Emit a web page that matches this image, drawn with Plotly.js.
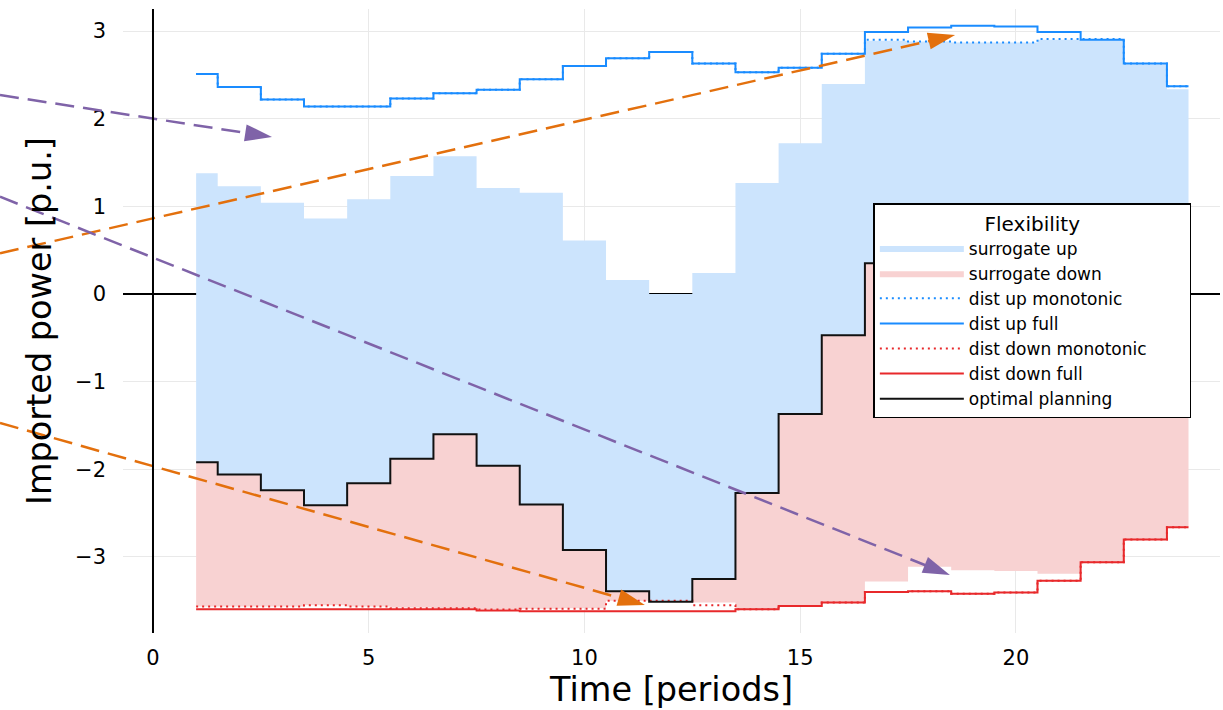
<!DOCTYPE html>
<html><head><meta charset="utf-8">
<script src="https://cdn.plot.ly/plotly-3.0.1.min.js"></script>
<style>html,body{margin:0;padding:0;background:#fff;}#chart{width:1223px;height:710px;}</style>
</head><body><div id="chart"></div>
<script>
// ---- data ----
const periods = [1,2,3,4,5,6,7,8,9,10,11,12,13,14,15,16,17,18,19,20,21,22,23,24];
const optimalPlanning = [-1.92,-2.06,-2.24,-2.41,-2.16,-1.88,-1.60,-1.96,-2.40,-2.92,-3.39,-3.51,-3.25,-2.27,-1.37,-0.47,0.35,0.35,0.35,0.35,0.35,0.35,0.35,0.35];
const surrogateUp = [1.376,1.23,1.04,0.86,1.08,1.345,1.57,1.21,1.155,0.61,0.16,0.0,0.24,1.265,1.72,2.395,2.89,2.88,2.87,2.87,2.90,2.90,2.62,2.335];
const surrogateDown = [-3.565,-3.565,-3.565,-3.55,-3.565,-3.575,-3.585,-3.595,-3.59,-3.585,-3.50,-3.51,-3.52,-3.595,-3.56,-3.52,-3.28,-3.11,-3.15,-3.16,-3.19,-3.06,-2.80,-2.66];
const distUpMonotonic = [2.51,2.36,2.22,2.14,2.14,2.23,2.29,2.33,2.45,2.60,2.69,2.76,2.63,2.53,2.58,2.74,2.90,2.88,2.87,2.87,2.91,2.91,2.63,2.37];
const distUpFull = [2.51,2.36,2.22,2.14,2.14,2.23,2.29,2.33,2.45,2.60,2.69,2.76,2.63,2.53,2.58,2.74,2.99,3.04,3.06,3.05,2.99,2.90,2.63,2.37];
const distDownMonotonic = [-3.565,-3.565,-3.565,-3.55,-3.565,-3.585,-3.585,-3.60,-3.59,-3.59,-3.50,-3.50,-3.55,-3.595,-3.56,-3.52,-3.40,-3.39,-3.42,-3.405,-3.27,-3.06,-2.80,-2.66];
const distDownFull = [-3.595,-3.595,-3.595,-3.595,-3.595,-3.595,-3.595,-3.61,-3.62,-3.62,-3.62,-3.62,-3.62,-3.595,-3.56,-3.52,-3.40,-3.39,-3.42,-3.405,-3.27,-3.06,-2.80,-2.66];
const xTicks = [0,5,10,15,20];
const yTicks = [-3,-2,-1,0,1,2,3];
// arrows in data units
const arrowStartX = [-3.546,-3.546,-3.546,-3.546];
const arrowStartY = [2.270,0.464,1.110,-1.471];
const arrowTipX = [2.758,18.59,18.47,11.40];
const arrowTipY = [1.791,2.954,-3.205,-3.547];
const arrowColors = ['#7f63a8','#e3700d','#7f63a8','#e3700d'];

// ---- geometry ----
const W = 1223, H = 710;
const M = {l:123, r:3, t:9, b:77};
const xRange = [-0.695, 24.73];
const yRange = [-3.867, 3.251];
const pw = W - M.l - M.r, ph = H - M.t - M.b;
function toPx(x, y){
  return [(x - xRange[0])/(xRange[1]-xRange[0])*pw, (y - yRange[0])/(yRange[1]-yRange[0])*ph];
}
function toPaper(px, py){ return [px/pw, py/ph]; }

const shapes = [];
for (let i = 0; i < arrowStartX.length; i++){
  const s = toPx(arrowStartX[i], arrowStartY[i]);
  const t = toPx(arrowTipX[i], arrowTipY[i]);
  const dx = t[0]-s[0], dy = t[1]-s[1];
  const len = Math.hypot(dx, dy);
  const ux = dx/len, uy = dy/len;
  const L = 27, hw = 8.5;
  const b = [t[0]-ux*L, t[1]-uy*L];
  const p1 = [b[0]-uy*hw, b[1]+ux*hw];
  const p2 = [b[0]+uy*hw, b[1]-ux*hw];
  const S = toPaper(s[0], s[1]), B = toPaper(b[0]+ux*2, b[1]+uy*2);
  shapes.push({type:'line', xref:'paper', yref:'paper', x0:S[0], y0:S[1], x1:B[0], y1:B[1],
    line:{color:arrowColors[i], width:2.5, dash:'19px,9px'}, layer:'above'});
  const T = toPaper(t[0], t[1]), P1 = toPaper(p1[0], p1[1]), P2 = toPaper(p2[0], p2[1]);
  shapes.push({type:'path', xref:'paper', yref:'paper',
    path:`M${T[0]},${T[1]} L${P1[0]},${P1[1]} L${P2[0]},${P2[1]} Z`,
    fillcolor:arrowColors[i], line:{width:0}, layer:'above'});
}

const blueFill = '#cce4fd';
const redFill = '#f8d2d2';
const blue = '#1a8cff';
const red = '#e8292b';
const traces = [
  {x:periods, y:optimalPlanning, mode:'lines', line:{shape:'hvh', width:0}, showlegend:false, hoverinfo:'skip'},
  {x:periods, y:surrogateUp, mode:'lines', name:'surrogate up', fill:'tonexty', fillcolor:blueFill, line:{shape:'hvh', width:0, color:blueFill}},
  {x:periods, y:optimalPlanning, mode:'lines', line:{shape:'hvh', width:0}, showlegend:false, hoverinfo:'skip'},
  {x:periods, y:surrogateDown, mode:'lines', name:'surrogate down', fill:'tonexty', fillcolor:redFill, line:{shape:'hvh', width:0, color:redFill}},
  {x:periods, y:distUpMonotonic, mode:'lines', name:'dist up monotonic', line:{shape:'hvh', width:2, color:blue, dash:'2px,4px'}},
  {x:periods, y:distUpFull, mode:'lines', name:'dist up full', line:{shape:'hvh', width:2, color:blue}},
  {x:periods, y:distDownMonotonic, mode:'lines', name:'dist down monotonic\u00a0\u00a0\u00a0\u00a0\u00a0\u00a0\u00a0', line:{shape:'hvh', width:2, color:red, dash:'2px,4px'}},
  {x:periods, y:distDownFull, mode:'lines', name:'dist down full', line:{shape:'hvh', width:2, color:red}},
  {x:periods, y:optimalPlanning, mode:'lines', name:'optimal planning', line:{shape:'hvh', width:2, color:'#111111'}}
];

const layout = {
  width:W, height:H, margin:M,
  paper_bgcolor:'#fff', plot_bgcolor:'#fff',
  font:{family:'DejaVu Sans', color:'#000', size:21},
  xaxis:{range:xRange, tickvals:xTicks, ticks:'', showgrid:true, gridcolor:'#e9e9e9', gridwidth:1,
    zeroline:false, showline:false, ticklabelstandoff:10, tickfont:{size:21},
    title:{text:'Time [periods]', font:{size:33.5}, standoff:3}},
  yaxis:{range:yRange, tickvals:yTicks, ticks:'', showgrid:true, gridcolor:'#e9e9e9', gridwidth:1,
    zeroline:true, zerolinecolor:'#000', zerolinewidth:1.5, showline:false, ticklabelstandoff:16, tickfont:{size:21},
    title:{text:'Imported power [p.u.]', font:{size:33.5}, standoff:13}},
  legend:{x:0.684, y:0.689, xanchor:'left', yanchor:'top', bgcolor:'#fff', bordercolor:'#000', borderwidth:1.5,
    traceorder:'normal', font:{size:17}, itemwidth:84,
    title:{text:'Flexibility', side:'top center', font:{size:20}}},
  shapes: shapes.concat([{type:'line', xref:'x', yref:'paper', x0:0, x1:0, y0:0, y1:1, line:{color:'#000', width:2}, layer:'above'}]),
  showlegend:true
};
Plotly.newPlot('chart', traces, layout, {displayModeBar:false, staticPlot:true});
</script></body></html>
